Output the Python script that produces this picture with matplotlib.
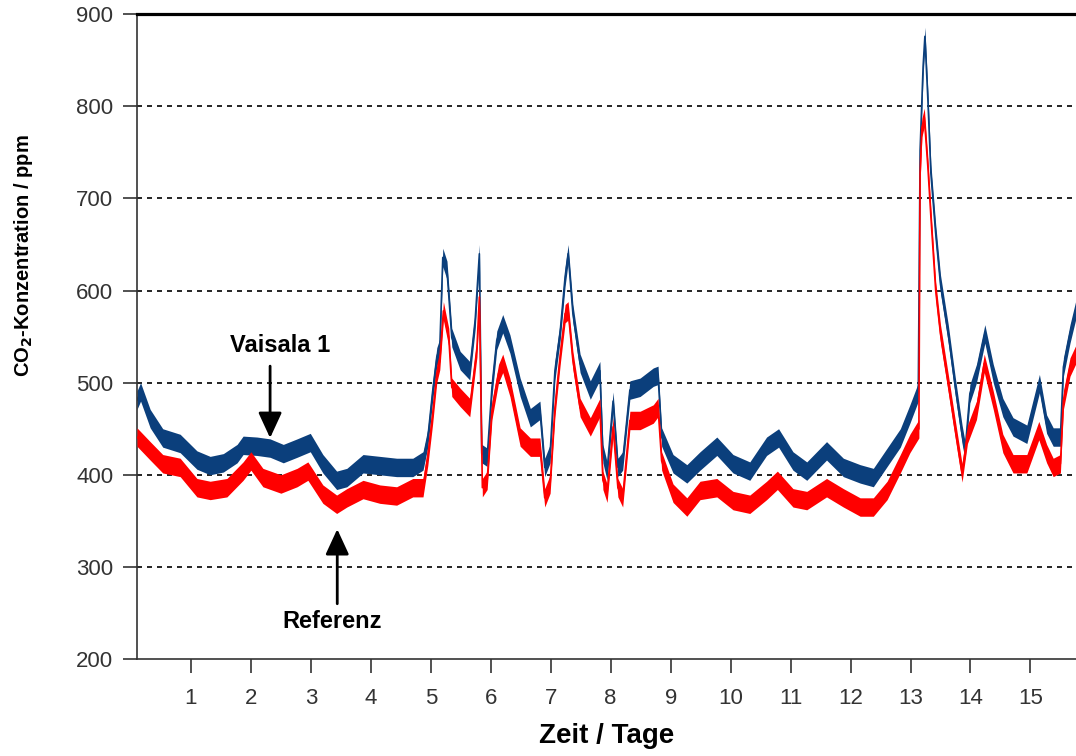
import numpy as np
import matplotlib
matplotlib.use("Agg")
import matplotlib.pyplot as plt

# values (day, ppm)
vaisala_days = [0.10, 0.16, 0.32, 0.53, 0.82, 1.10, 1.32, 1.54, 1.77, 1.87, 2.10, 2.32,
                2.54, 2.77, 2.99, 3.20, 3.43, 3.60, 3.87, 4.15, 4.43, 4.70, 4.87, 4.95,
                5.03, 5.10, 5.15, 5.20, 5.27, 5.35, 5.49, 5.65, 5.74, 5.81, 5.85, 5.94,
                6.02, 6.10, 6.20, 6.32, 6.49, 6.66, 6.82, 6.90, 6.99, 7.07, 7.16, 7.24,
                7.29, 7.37, 7.49, 7.66, 7.82, 7.87, 7.94, 8.04, 8.12, 8.20, 8.32, 8.49,
                8.71, 8.79, 8.85, 9.04, 9.27, 9.49, 9.77, 10.04, 10.32, 10.60, 10.80, 11.04,
                11.27, 11.60, 11.88, 12.16, 12.38, 12.61, 12.83, 12.99, 13.13, 13.16, 13.21, 13.24,
                13.29, 13.34, 13.42, 13.50, 13.63, 13.74, 13.86, 13.91, 13.99, 14.10, 14.24, 14.38,
                14.54, 14.71, 14.94, 15.15, 15.27, 15.38, 15.50, 15.55, 15.66, 15.76]
vaisala_ppm = [481, 490, 461, 440, 434, 416, 410, 413, 423, 432, 431, 429,
               423, 429, 435, 412, 394, 397, 412, 410, 408, 408, 415, 440,
               490, 528, 538, 636, 622, 549, 524, 513, 568, 640, 423, 419,
               495, 546, 564, 542, 495, 462, 470, 408, 423, 513, 557, 615,
               640, 575, 521, 492, 513, 423, 404, 480, 408, 415, 492, 495,
               506, 508, 441, 412, 401, 415, 431, 412, 404, 431, 440, 415,
               404, 426, 408, 401, 397, 419, 440, 466, 490, 752, 843, 876,
               807, 727, 662, 607, 553, 499, 444, 426, 488, 510, 553, 510,
               473, 452, 444, 499, 455, 441, 441, 517, 553, 580]

referenz_days = [0.10, 0.32, 0.53, 0.82, 1.10, 1.32, 1.60, 1.87, 2.00, 2.20, 2.50, 2.77,
                 2.95, 3.20, 3.43, 3.60, 3.87, 4.15, 4.43, 4.70, 4.87, 4.95, 5.03, 5.10,
                 5.15, 5.21, 5.30, 5.35, 5.49, 5.65, 5.77, 5.81, 5.86, 5.94, 6.02, 6.13,
                 6.20, 6.32, 6.49, 6.66, 6.82, 6.90, 6.99, 7.07, 7.16, 7.24, 7.29, 7.37,
                 7.49, 7.66, 7.82, 7.87, 7.94, 8.04, 8.12, 8.20, 8.32, 8.49, 8.71, 8.79,
                 8.85, 9.04, 9.27, 9.49, 9.77, 10.04, 10.32, 10.60, 10.78, 11.04, 11.27, 11.60,
                 11.88, 12.16, 12.38, 12.61, 12.83, 12.99, 13.14, 13.16, 13.19, 13.23, 13.29, 13.34,
                 13.42, 13.50, 13.63, 13.74, 13.86, 13.95, 14.10, 14.23, 14.38, 14.54, 14.71, 14.94,
                 15.14, 15.27, 15.38, 15.50, 15.55, 15.66, 15.76]
referenz_ppm = [441, 426, 412, 408, 386, 383, 386, 404, 415, 397, 390, 397,
                404, 379, 368, 375, 384, 379, 377, 386, 386, 420, 465, 510,
                524, 578, 549, 495, 484, 473, 538, 593, 386, 394, 470, 510,
                521, 495, 441, 430, 430, 375, 390, 473, 531, 575, 578, 524,
                473, 452, 473, 394, 380, 452, 386, 375, 459, 459, 466, 473,
                415, 380, 365, 383, 386, 372, 368, 383, 394, 375, 372, 386,
                375, 365, 365, 383, 412, 434, 450, 727, 777, 788, 734, 680,
                600, 553, 499, 452, 402, 444, 470, 521, 481, 434, 412, 412,
                448, 423, 408, 412, 481, 517, 531]

ytick_values = [200, 300, 400, 500, 600, 700, 800, 900]
xtick_values = list(range(1, 16))

plt.rcParams['font.family'] = ['Liberation Sans', 'DejaVu Sans']

fig = plt.figure(figsize=(10.76, 7.56), dpi=100)
ax = fig.add_axes([0.1273, 0.1283, 0.8727, 0.8528])

band = 10  # half thickness of the noisy trace
blue = '#0b3f7c'
red = '#ff0000'

vd = np.array(vaisala_days)
vp = np.array(vaisala_ppm)
rd = np.array(referenz_days)
rp = np.array(referenz_ppm)

ax.fill_between(vd, vp - band, vp + band, color=blue, lw=0, zorder=2)
ax.plot(vd, vp, color=blue, lw=1.2, zorder=2)
ax.fill_between(rd, rp - band, rp + band, color=red, lw=0, zorder=3)
ax.plot(rd, rp, color=red, lw=1.2, zorder=3)

ax.set_xlim(0.1, 15.76)
ax.set_ylim(200, 900)
ax.set_xticks(xtick_values)
ax.set_yticks(ytick_values)

for v in ytick_values[1:-1]:
    ax.axhline(v, color='black', lw=1.2, linestyle=(0, (3, 3)), zorder=1)

ax.spines['right'].set_visible(False)
ax.spines['top'].set_linewidth(2.3)
ax.spines['top'].set_color('black')
ax.spines['left'].set_linewidth(1.2)
ax.spines['left'].set_color('#333333')
ax.spines['bottom'].set_linewidth(1.2)
ax.spines['bottom'].set_color('#333333')

ax.tick_params(axis='y', length=10, width=1.2, pad=7, labelsize=16,
               colors='#333333', direction='out')
ax.tick_params(axis='x', length=10, width=1.2, pad=11, labelsize=16,
               colors='#333333', direction='out')

ax.set_xlabel('Zeit / Tage', fontsize=20, fontweight='bold')
ax.xaxis.set_label_coords(0.5, -0.1)
ax.set_ylabel('CO$_\\mathbf{2}$-Konzentration / ppm', fontsize=14.5, fontweight='bold')
ax.yaxis.set_label_coords(-0.1085, 0.625)

arrow = dict(arrowstyle='-|>,head_length=0.65,head_width=0.3', lw=2,
             color='black', mutation_scale=24, shrinkA=0, shrinkB=0)
ax.annotate('', xy=(2.32, 440), xytext=(2.32, 518), arrowprops=arrow)
ax.text(2.48, 540, 'Vaisala 1', fontsize=17, fontweight='bold',
        ha='center', va='center')
ax.annotate('', xy=(3.44, 341), xytext=(3.44, 260), arrowprops=arrow)
ax.text(3.35, 241, 'Referenz', fontsize=17, fontweight='bold',
        ha='center', va='center')

fig.savefig('out.png', dpi=100)
